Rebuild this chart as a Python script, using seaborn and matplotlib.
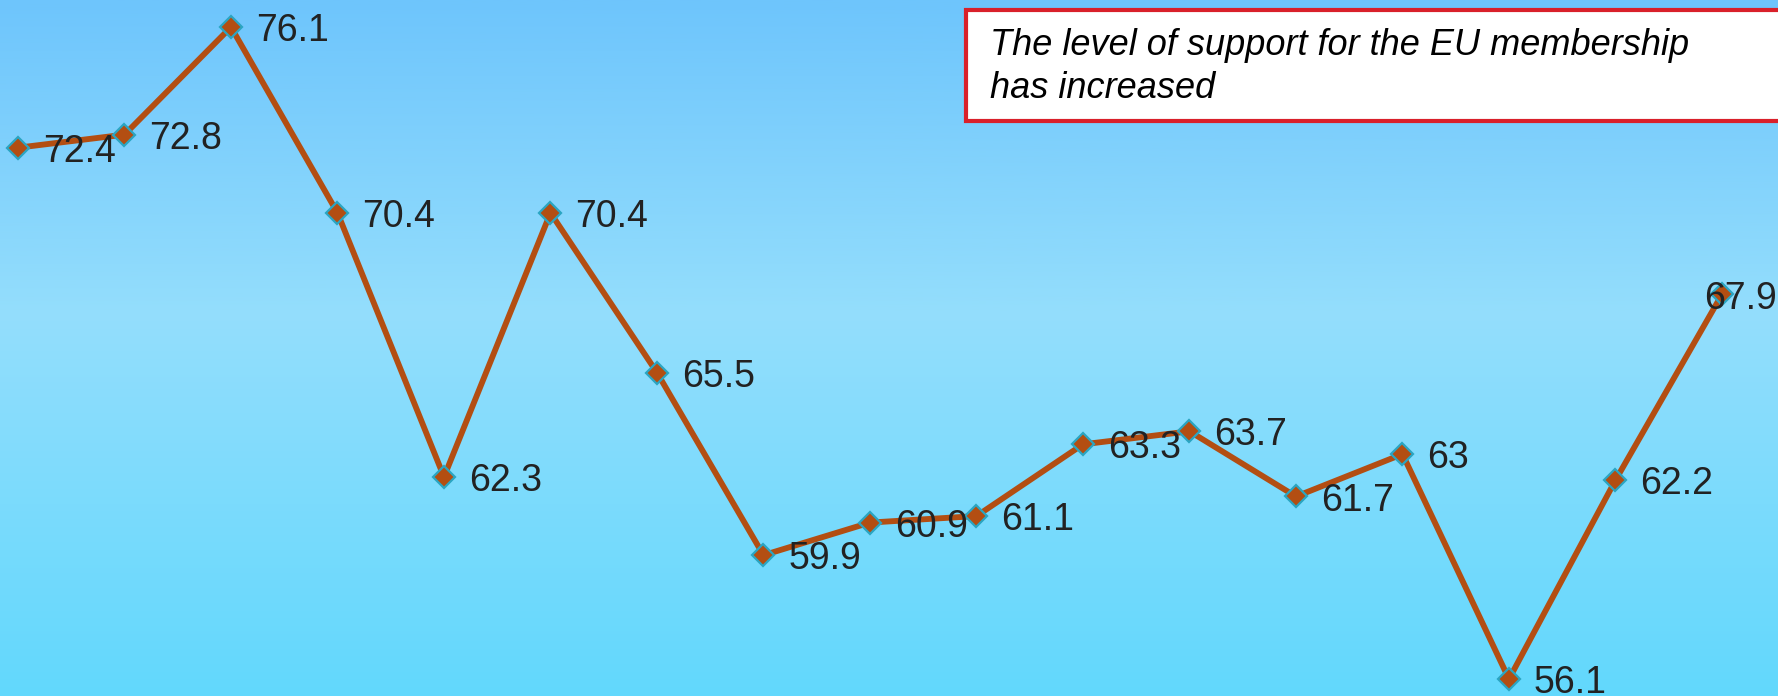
"""
EU membership support trend - line chart with a note box.
"""

import numpy as np
import pandas as pd
import matplotlib
matplotlib.use("Agg")
import matplotlib.pyplot as plt
import seaborn as sns
from matplotlib.colors import LinearSegmentedColormap
from matplotlib.patches import Rectangle

# ── Data ────────────────────────────────────────────────────────────────────
POINTS = list(range(17))
SUPPORT = [72.4, 72.8, 76.1, 70.4, 62.3, 70.4, 65.5, 59.9, 60.9,
           61.1, 63.3, 63.7, 61.7, 63, 56.1, 62.2, 67.9]
LABELS = ["72.4", "72.8", "76.1", "70.4", "62.3", "70.4", "65.5", "59.9", "60.9",
          "61.1", "63.3", "63.7", "61.7", "63", "56.1", "62.2", "67.9"]
NOTE_LINES = ["The level of support for the EU membership", "has increased"]

# ── Style ───────────────────────────────────────────────────────────────────
W, H, DPI = 1778, 696, 100
LINE_COLOR = "#B34E12"
EDGE_COLOR = "#2AA5C2"
TEXT_COLOR = "#222222"

sns.set_theme(style="white")
plt.rcParams["font.family"] = ["Liberation Sans", "DejaVu Sans"]

df = pd.DataFrame({"point": POINTS, "support": SUPPORT})

fig = plt.figure(figsize=(W / DPI, H / DPI), dpi=DPI)

# background gradient
bg = fig.add_axes([0, 0, 1, 1], zorder=0)
cmap = LinearSegmentedColormap.from_list(
    "bg", [(0.0, "#6EC5FC"), (0.45, "#94DEFC"), (1.0, "#62D8FD")])
bg.imshow(np.linspace(0, 1, 256).reshape(-1, 1), aspect="auto", cmap=cmap,
          extent=[0, 1, 0, 1])
bg.axis("off")

ax = fig.add_axes([0, 0, 1, 1], zorder=1)
ax.patch.set_alpha(0)
sns.lineplot(data=df, x="point", y="support", ax=ax, color=LINE_COLOR,
             linewidth=4.2, marker="D", markersize=11,
             markerfacecolor=LINE_COLOR, markeredgecolor=EDGE_COLOR,
             markeredgewidth=1.6)

for x, y, lab in zip(POINTS, SUPPORT, LABELS):
    dx = 18 if x != POINTS[-1] else -13
    ax.annotate(lab, (x, y), xytext=(dx, -3), textcoords="offset points",
                ha="left", va="center", fontsize=27, color=TEXT_COLOR)

ax.set_xlim(-0.169, 16.526)
ax.set_ylim(55.58, 76.93)
ax.axis("off")

# note box
fig.patches.append(Rectangle((966 / W, 1 - 121 / H), 0.5, 111 / H,
                             transform=fig.transFigure, facecolor="white",
                             edgecolor="#D9202A", linewidth=3, zorder=5))
for i, line in enumerate(NOTE_LINES):
    fig.text(990 / W, 1 - (55 + 43 * i) / H, line, fontsize=26,
             style="italic", color="black", va="baseline", zorder=6)

fig.savefig("out.png", dpi=DPI)
